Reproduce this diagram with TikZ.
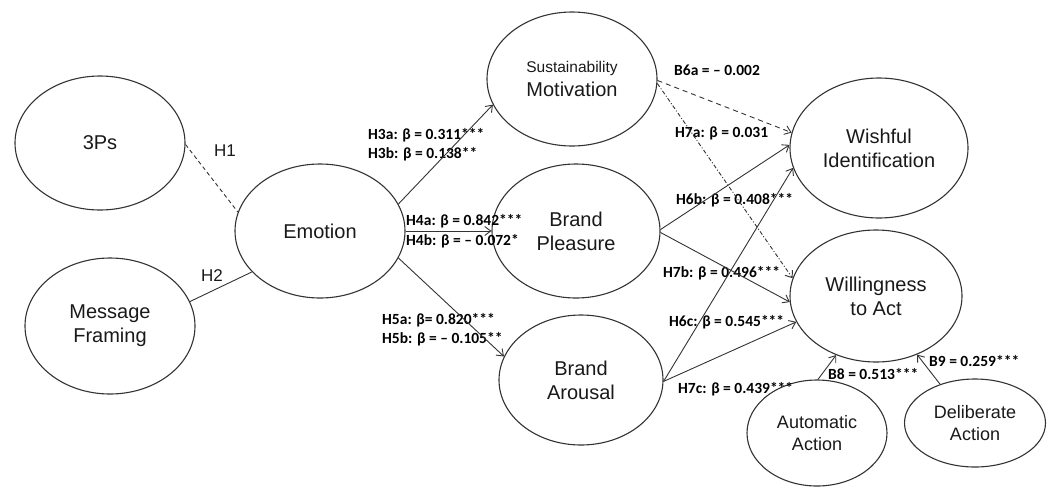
\documentclass[tikz,border=0pt]{standalone}
\usepackage{fontspec}
\setmainfont{Liberation Sans}
\newfontfamily\labfont{Carlito}
\usetikzlibrary{shapes.geometric,arrows.meta}
\begin{document}
\begin{tikzpicture}[x=1pt,y=-1pt,
  ell/.style={ellipse,draw=black!80,line width=1.1pt,inner sep=0pt,align=center,font=\fontsize{20}{24}\selectfont,text=black!90},
  smallell/.style={ell,font=\fontsize{18}{22}\selectfont},
  conn/.style={draw=black!80,line width=0.9pt},
  arr/.style={conn,-{Straight Barb[length=6pt,width=9pt]}},
  lab/.style={font=\labfont\bfseries\fontsize{15.5}{18}\selectfont,anchor=west,inner sep=0pt,text=black},
  hl/.style={font=\fontsize{17}{20}\selectfont,inner sep=0pt,text=black!90}]
\useasboundingbox (0,0) rectangle (1049,488);
% nodes
\node[ell,minimum width=170pt,minimum height=134pt] (p3) at (100,143) {3Ps};
\node[ell,minimum width=170pt,minimum height=136pt] (mf) at (110,326) {Message\\Framing};
\node[ell,minimum width=170pt,minimum height=134pt] (emo) at (320,231) {Emotion};
\node[ell,minimum width=170pt,minimum height=134pt] (sm) at (572,79) {{\fontsize{15.5}{18}\selectfont Sustainability}\\Motivation};
\node[ell,minimum width=168pt,minimum height=134pt] (bp) at (576,231) {Brand\\Pleasure};
\node[ell,minimum width=164pt,minimum height=130pt] (ba) at (581,380) {Brand\\Arousal};
\node[ell,minimum width=178pt,minimum height=140pt] (wi) at (879,148) {Wishful\\Identification};
\node[ell,minimum width=172pt,minimum height=132pt] (wa) at (876,296) {Willingness\\to Act};
\node[smallell,minimum width=140pt,minimum height=106pt] (aa) at (817,433) {Automatic\\Action};
\node[smallell,minimum width=141pt,minimum height=88pt] (da) at (975,423) {Deliberate\\Action};
% labels
\node[hl] (h1) at (225,151) {H1};
\node[hl] (h2) at (212,276) {H2};
\node[lab] (l3a) at (368,135) {H3a: β = 0.311***};
\node[lab] (l3b) at (368,154) {H3b: β = 0.138**};
\node[lab] (l4a) at (406,221) {H4a: β = 0.842***};
\node[lab] (l4b) at (406,241) {H4b: β = – 0.072*};
\node[lab] (l5a) at (382,320) {H5a: β= 0.820***};
\node[lab] (l5b) at (382,339) {H5b: β = – 0.105**};
\node[lab] (b6a) at (674,70) {B6a = – 0.002};
\node[lab] (l7a) at (675,133) {H7a: β = 0.031};
\node[lab] (l6b) at (676,200) {H6b: β = 0.408***};
\node[lab] (l7b) at (663,273) {H7b: β = 0.496***};
\node[lab] (l6c) at (669,322) {H6c: β = 0.545***};
\node[lab] (l7c) at (678,389) {H7c: β = 0.439***};
\node[lab] (b8) at (828,374) {B8 = 0.513***};
\node[lab] (b9) at (929,361) {B9 = 0.259***};
% connectors
\draw[conn,dash pattern=on 4pt off 3pt] (p3.-1) -- (emo.167);
\draw[conn] (mf.17) -- (emo.-149);
\draw[arr] (emo.19.5) -- (sm.198);
\draw[arr] (emo.0) -- (bp.180);
\draw[arr] (emo.-19.7) -- (ba.163.6);
\draw[arr,dash pattern=on 5pt off 4pt] (sm.-1) -- (wi.170.5);
\draw[arr,dash pattern=on 4pt off 2pt on 1pt off 2pt] (sm.-3) -- (wa.168.8);
\draw[arr] (bp.1) -- (wi.178.7);
\draw[arr] (bp.-1) -- (wa.-176);
\draw[arr] (ba.-1) -- (wi.-167.5);
\draw[arr] (ba.-1) -- (wa.-162.4);
\draw[arr] (aa.89) -- (wa.-124.6);
\draw[arr] (da.132.6) -- (wa.-55.2);
\end{tikzpicture}
\end{document}
